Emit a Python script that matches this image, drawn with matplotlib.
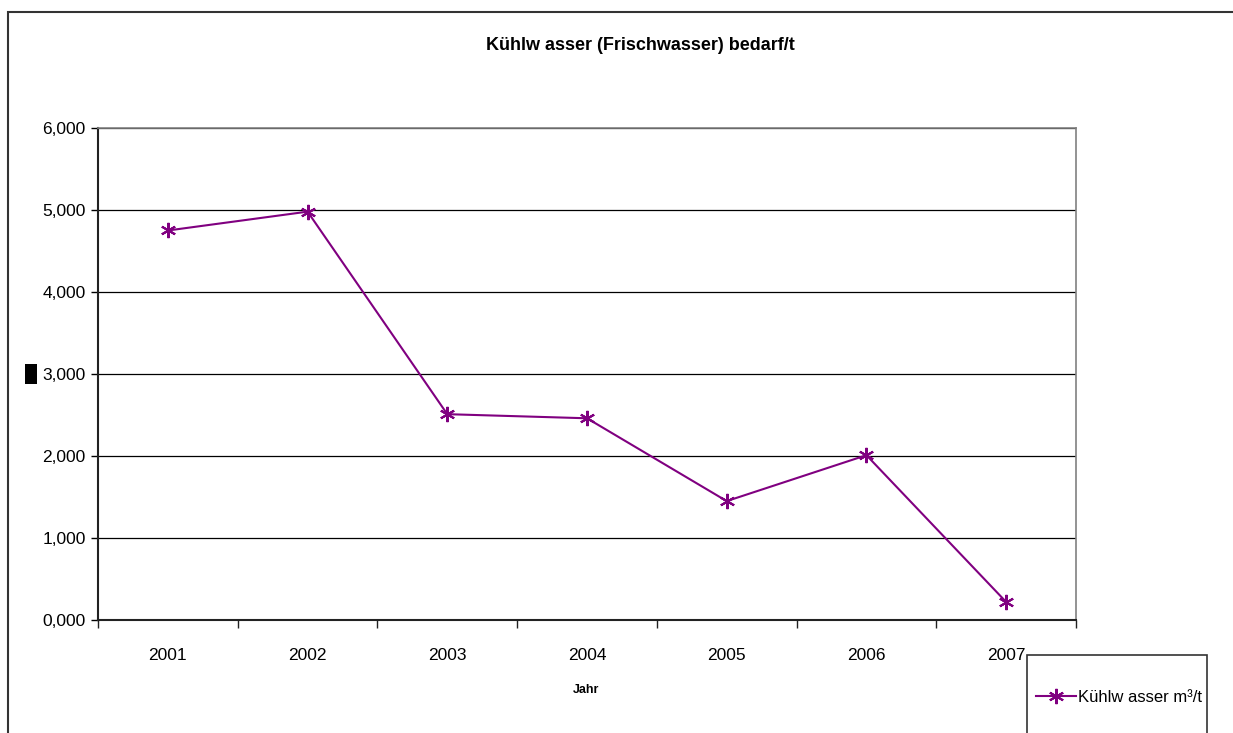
import matplotlib
matplotlib.use('Agg')
from matplotlib import pyplot as plt
from matplotlib.patches import Rectangle
from matplotlib.ticker import FixedLocator, FuncFormatter

# Daten
jahre = ['2001', '2002', '2003', '2004', '2005', '2006', '2007']
kuehlwasser = [4.75, 4.98, 2.51, 2.46, 1.45, 2.01, 0.22]
yticks = [0, 1, 2, 3, 4, 5, 6]

plt.rcParams['font.family'] = ['Liberation Sans', 'DejaVu Sans']

W, H = 1233, 733
fig = plt.figure(figsize=(W / 100, H / 100), dpi=100)

# Diagrammfläche
ax = fig.add_axes([98 / W, 1 - 620 / H, (1076 - 98) / W, (620 - 128) / H])
x = list(range(len(jahre)))
ax.plot(x, kuehlwasser, color='#800080', lw=1.5, marker=(6, 2, 0),
        markersize=11, markeredgewidth=1.5, label='Kühlw asser m³/t')

ax.set_xlim(-0.5, len(jahre) - 0.5)
ax.set_ylim(0, 6)
ax.set_yticks(yticks)
ax.yaxis.set_major_formatter(FuncFormatter(lambda v, p: f'{v:.3f}'.replace('.', ',')))
ax.set_xticks(x)
ax.set_xticklabels(jahre)
ax.xaxis.set_minor_locator(FixedLocator([i - 0.5 for i in range(len(jahre) + 1)]))
ax.tick_params(axis='x', which='major', length=0, pad=20, labelsize=12.5)
ax.tick_params(axis='x', which='minor', length=6, width=1, direction='out', color='#222222')
ax.tick_params(axis='y', length=5, width=1, direction='out', pad=4, labelsize=12.5)
ax.grid(axis='y', color='black', lw=0.9)
ax.set_axisbelow(True)
for s in ['top', 'right']:
    ax.spines[s].set_color('#808080')
    ax.spines[s].set_linewidth(1.2)
for s in ['left', 'bottom']:
    ax.spines[s].set_color('#222222')
    ax.spines[s].set_linewidth(1.5)

# Beschriftungen
fig.text(640 / W, 1 - 45 / H, 'Kühlw asser (Frischwasser) bedarf/t', ha='center', va='center',
         fontsize=13, fontweight='bold')
fig.text(586 / W, 1 - 690 / H, 'Jahr', ha='center', va='center', fontsize=9, fontweight='bold')

# Rahmen und Platzhalter für Achsentitel
fig.add_artist(Rectangle((8 / W, -0.2), 1.2, 1.2 - 12 / H, transform=fig.transFigure,
                         fill=False, edgecolor='#333333', lw=1.5))
fig.add_artist(Rectangle((25 / W, 1 - 384 / H), 12 / W, 20 / H, transform=fig.transFigure,
                         facecolor='black', edgecolor='none'))

# Legende
fig.add_artist(Rectangle((1027 / W, -0.1), 180 / W, 0.1 + 1 - 655 / H, transform=fig.transFigure,
                         fill=False, edgecolor='#333333', lw=1.2))
leg = fig.legend(loc='center left', bbox_to_anchor=(1036 / W, 1 - 697 / H), fontsize=12,
                 frameon=False, borderpad=0, handlelength=2.4,
                 handletextpad=0.15, borderaxespad=0)

fig.savefig('out.png', dpi=100)
plt.close()
